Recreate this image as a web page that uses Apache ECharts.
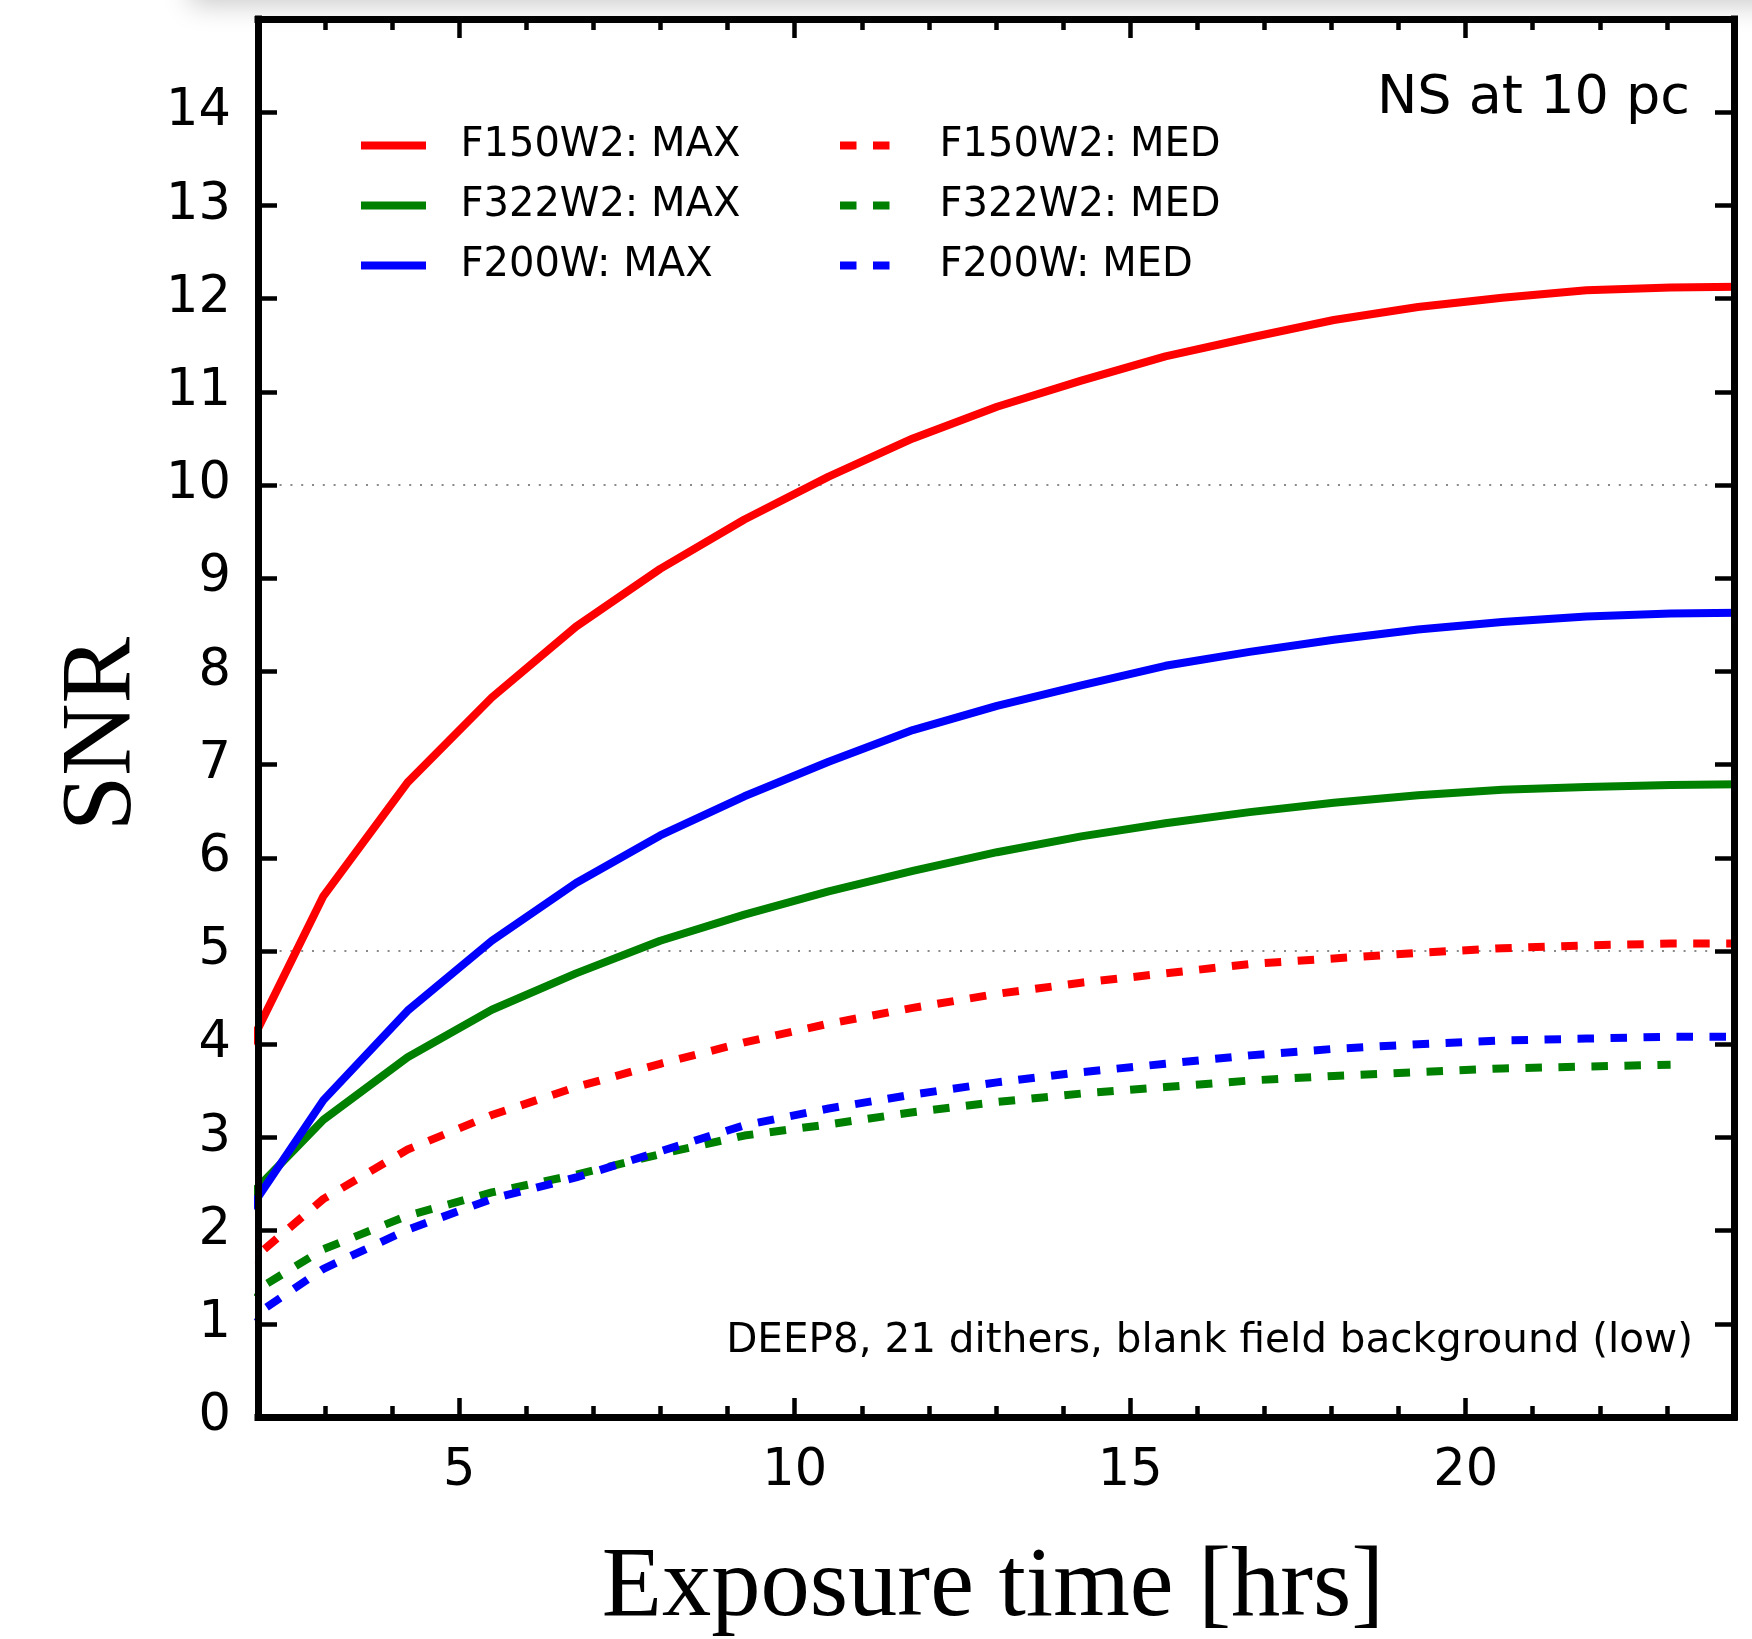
<!DOCTYPE html>
<html>
<head>
<meta charset="utf-8">
<script src="https://cdn.jsdelivr.net/npm/echarts@6/dist/echarts.min.js"></script>
<style>
html,body{margin:0;padding:0;background:#fff;}
#chart{width:1752px;height:1639px;}
</style>
</head>
<body>
<div id="chart"></div>
<script>
// ---- data ----
const exposureHours = [1.72, 2.975, 4.23, 5.485, 6.74, 7.995, 9.25, 10.505, 11.76, 13.015, 14.27, 15.525, 16.78, 18.035, 19.29, 20.545, 21.8, 23.055, 24.31];
const f150w2Max = [3.76, 5.59, 6.81, 7.72, 8.48, 9.10, 9.63, 10.09, 10.50, 10.84, 11.12, 11.38, 11.58, 11.77, 11.91, 12.01, 12.09, 12.12, 12.13];
const f322w2Max = [2.26, 3.19, 3.86, 4.37, 4.76, 5.11, 5.39, 5.64, 5.86, 6.06, 6.23, 6.37, 6.49, 6.59, 6.67, 6.73, 6.76, 6.78, 6.79];
const f200wMax  = [2.06, 3.40, 4.36, 5.11, 5.73, 6.24, 6.66, 7.03, 7.37, 7.63, 7.85, 8.06, 8.21, 8.34, 8.45, 8.53, 8.59, 8.62, 8.63];
const f150w2Med = [1.57, 2.34, 2.87, 3.24, 3.54, 3.79, 4.02, 4.22, 4.39, 4.54, 4.66, 4.76, 4.86, 4.92, 4.98, 5.03, 5.06, 5.08, 5.08];
const f322w2Med = [1.25, 1.80, 2.16, 2.41, 2.60, 2.82, 3.02, 3.14, 3.27, 3.38, 3.47, 3.54, 3.61, 3.66, 3.70, 3.74, 3.76, 3.78];
const f200wMed  = [0.98, 1.59, 2.01, 2.34, 2.57, 2.85, 3.13, 3.31, 3.46, 3.59, 3.70, 3.79, 3.88, 3.95, 4.00, 4.04, 4.06, 4.08, 4.08];

const namesMax = ['F150W2: MAX', 'F322W2: MAX', 'F200W: MAX'];
const namesMed = ['F150W2: MED', 'F322W2: MED', 'F200W: MED'];
const xMajorTicks = [5, 10, 15, 20];
const xMinorTicks = [3, 4, 6, 7, 8, 9, 11, 12, 13, 14, 16, 17, 18, 19, 21, 22, 23];
const annotationTop = 'NS at 10 pc';
const annotationBottom = 'DEEP8, 21 dithers, blank field background (low)';
const xTitle = 'Exposure time [hrs]';
const yTitle = 'SNR';

// ---- chart ----
function pairs(ys) { return ys.map((y, i) => [exposureHours[i], y]); }

const RED = '#ff0000', GREEN = '#008000', BLUE = '#0000ff';
const DASH = [16.5, 16.5];
const LW = 8;
const SANS = 'DejaVu Sans';

function lineSeries(name, ys, color, dashed) {
  return {
    name: name, type: 'line', data: pairs(ys),
    xAxisIndex: 0, yAxisIndex: 0,
    symbol: 'none', showSymbol: false, clip: true, smooth: false,
    lineStyle: { color: color, width: LW, type: dashed ? DASH : 'solid', cap: 'butt', join: 'round' },
    itemStyle: { color: color },
    emphasis: { disabled: true },
    z: 3
  };
}

const tickStyle = { color: '#000', width: 4.5 };
const frameStyle = { color: '#000', width: 7, cap: 'square' };

function xAxisDef(position, ticks, len, withLine, withLabels) {
  return {
    type: 'value', gridIndex: 0, position: position, min: 2, max: 24, z: 10,
    axisLine: { show: withLine, onZero: false, lineStyle: frameStyle },
    axisTick: { show: true, inside: true, length: len, customValues: ticks, lineStyle: tickStyle },
    axisLabel: withLabels ? { show: true, customValues: xMajorTicks, margin: 29, fontFamily: SANS, fontSize: 51, color: '#000' } : { show: false },
    splitLine: { show: false }, minorTick: { show: false }
  };
}

function yAxisDef(position, withLabels) {
  return {
    type: 'value', gridIndex: 0, position: position, min: 0, max: 15, interval: 1, z: 10,
    axisLine: { show: true, onZero: false, lineStyle: frameStyle },
    axisTick: { show: true, inside: true, length: 19, lineStyle: tickStyle },
    axisLabel: withLabels ? { show: true, showMaxLabel: false, margin: 27, fontFamily: SANS, fontSize: 51, color: '#000',
      formatter: function (v) { return v === 15 ? '' : String(v); } } : { show: false },
    splitLine: { show: false }
  };
}

const legendBase = {
  orient: 'vertical', top: 125.5, padding: 0, itemWidth: 65, itemHeight: 40, itemGap: 20,
  selectedMode: false,
  textStyle: { fontFamily: SANS, fontSize: 40, color: '#000', lineHeight: 40, padding: [0, 0, 0, 29.5] },
  lineStyle: { width: LW, cap: 'butt' },
  itemStyle: { opacity: 0, borderWidth: 0 }
};

const option = {
  animation: false,
  backgroundColor: '#ffffff',
  grid: { left: 258, right: 18, top: 19, bottom: 222, containLabel: false, show: false },
  xAxis: [
    xAxisDef('bottom', xMajorTicks, 19, true, true),
    xAxisDef('bottom', xMinorTicks, 11, false, false),
    xAxisDef('top', xMajorTicks, 19, true, false),
    xAxisDef('top', xMinorTicks, 11, false, false)
  ],
  yAxis: [
    yAxisDef('left', true),
    yAxisDef('right', false),
    {
      type: 'value', gridIndex: 0, position: 'left', min: 0, max: 15, interval: 5, z: 0,
      axisLine: { show: false }, axisTick: { show: false }, axisLabel: { show: false },
      splitLine: { show: true, showMinLine: false, showMaxLine: false,
        lineStyle: { color: '#8a8a8a', width: 2, type: [2, 8.8] } }
    }
  ],
  legend: [
    Object.assign({}, legendBase, { left: 357, data: namesMax }),
    Object.assign({}, legendBase, { left: 836, data: namesMed })
  ],
  series: [
    lineSeries(namesMax[0], f150w2Max, RED, false),
    lineSeries(namesMax[1], f322w2Max, GREEN, false),
    lineSeries(namesMax[2], f200wMax, BLUE, false),
    lineSeries(namesMed[0], f150w2Med, RED, true),
    lineSeries(namesMed[1], f322w2Med, GREEN, true),
    lineSeries(namesMed[2], f200wMed, BLUE, true)
  ],
  graphic: [
    { type: 'rect', silent: true, z: -1, shape: { x: 190, y: -60, width: 1700, height: 60 },
      style: { fill: '#ffffff', shadowBlur: 28, shadowColor: 'rgba(0,0,0,0.22)', shadowOffsetY: 4 } },
    { type: 'text', x: 102.5, y: 734, rotation: Math.PI / 2, silent: true,
      style: { text: yTitle, font: '100px "Liberation Serif"', fill: '#000',
        align: 'center', verticalAlign: 'middle', textAlign: 'center', textVerticalAlign: 'middle' } },
    { type: 'text', x: 993, y: 1589, silent: true,
      style: { text: xTitle, font: '98.5px "Liberation Serif"', fill: '#000',
        align: 'center', verticalAlign: 'middle', textAlign: 'center', textVerticalAlign: 'middle' } },
    { type: 'text', x: 1690, y: 99, silent: true,
      style: { text: annotationTop, font: '54px "DejaVu Sans"', fill: '#000',
        align: 'right', verticalAlign: 'middle', textAlign: 'right', textVerticalAlign: 'middle' } },
    { type: 'text', x: 1693, y: 1341, silent: true,
      style: { text: annotationBottom, font: '40.5px "DejaVu Sans"', fill: '#000',
        align: 'right', verticalAlign: 'middle', textAlign: 'right', textVerticalAlign: 'middle' } }
  ]
};

const chart = echarts.init(document.getElementById('chart'), null, { renderer: 'canvas' });
chart.setOption(option);
</script>
</body>
</html>
